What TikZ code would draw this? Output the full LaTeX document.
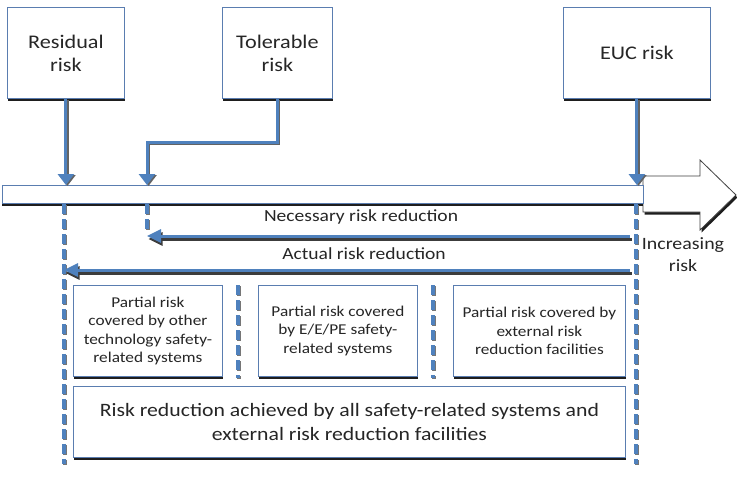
\documentclass[tikz,border=0pt]{standalone}
\usepackage{fontspec}
\setmainfont{Carlito}[FakeStretch=1.15]
\usetikzlibrary{arrows.meta,shadows,calc}
\definecolor{arrowblue}{HTML}{4F81BD}
\definecolor{boxline}{HTML}{5A7DB0}
\definecolor{shadowc}{HTML}{1E1E1E}
\definecolor{lshadow}{HTML}{3C3C3C}
\definecolor{txt}{HTML}{262626}
\tikzset{
  box/.style={draw=boxline, line width=0.8pt, fill=white, anchor=north west, inner sep=0pt,
    align=center, text=txt,
    drop shadow={shadow xshift=1pt, shadow yshift=-3pt, fill=shadowc, opacity=1}},
  topbox/.style={box, font=\fontsize{19.3}{23}\selectfont},
  smallbox/.style={box, font=\fontsize{15}{18.5}\selectfont},
  bigbox/.style={box, font=\fontsize{18.9}{24}\selectfont},
  vline/.style={draw=arrowblue, line width=3pt, -{Triangle[length=11pt,width=16pt]}},
  vshadow/.style={draw=lshadow!80, line width=3pt, -{Triangle[length=11pt,width=16pt]}},
  hline/.style={draw=arrowblue, line width=3pt, -{Triangle[length=14pt,width=13pt]}},
  hshadow/.style={draw=lshadow, line width=3pt, -{Triangle[length=14pt,width=13pt]}},
  dline/.style={draw=arrowblue, line width=3.4pt, dash pattern=on 10pt off 5pt},
  dshadow/.style={draw=lshadow!70, line width=3.4pt, dash pattern=on 10pt off 5pt},
  label/.style={text=txt, inner sep=0pt, align=center},
}
\begin{document}
\begin{tikzpicture}[x=1pt,y=-1pt]
\useasboundingbox (0,0) rectangle (737,480);
\fill[white] (0,0) rectangle (737,480);

% big increasing-risk arrow
\draw[draw=shadowc!85, line width=0.8pt, fill=white,
  drop shadow={shadow xshift=1.5pt, shadow yshift=-2.5pt, fill=shadowc, opacity=1}]
  (643,176) -- (700,176) -- (700,160) -- (736,195) -- (700,230) -- (700,212) -- (643,212) -- cycle;

% bar
\node[draw=boxline, line width=0.8pt, fill=white, anchor=north west, inner sep=0pt,
  minimum width=641pt, minimum height=18pt,
  drop shadow={shadow xshift=0pt, shadow yshift=-2.5pt, fill=shadowc, opacity=1}] (bar) at (2,185) {};

% top boxes
\node[topbox, minimum width=117pt, minimum height=91pt] (res) at (7,7) {Residual\\risk};
\node[topbox, minimum width=110pt, minimum height=91pt] (tol) at (222,7) {Tolerable\\risk};
\node[topbox, minimum width=147pt, minimum height=91pt] (euc) at (563,7) {EUC risk};

% coordinates
\coordinate (tcorner) at (147,142);
\coordinate (d1b) at (64,464);
\coordinate (d2b) at (147,232);
\coordinate (d3b) at (636,464);
\coordinate (m1t) at (238,285);
\coordinate (m1b) at (238,378);
\coordinate (m2t) at (433,285);
\coordinate (m2b) at (433,378);
\coordinate (necR) at (630,236);
\coordinate (actR) at (630,270);

% shadows of connectors
\begin{scope}[transform canvas={shift={(1.5pt,-1pt)}}]
\draw[vshadow] (res.south) -- (res.south |- bar.north);
\draw[vshadow] (tol.south) |- (tcorner) -- (tcorner |- bar.north);
\draw[vshadow] (euc.south) -- (euc.south |- bar.north);
\end{scope}
\begin{scope}[transform canvas={shift={(1pt,-1pt)}}]
\draw[dshadow] (d1b |- bar.south) -- (d1b);
\draw[dshadow] (d2b |- bar.south) -- (d2b);
\draw[dshadow] (d3b |- bar.south) -- (d3b);
\draw[dshadow] (m1t) -- (m1b);
\draw[dshadow] (m2t) -- (m2b);
\end{scope}
\begin{scope}[transform canvas={shift={(1.5pt,-3pt)}}]
\draw[hshadow] (necR) -- (necR -| d2b);
\draw[hshadow] (actR) -- (actR -| d1b);
\end{scope}

% vertical arrows
\draw[vline] (res.south) -- (res.south |- bar.north);
\draw[vline] (tol.south) |- (tcorner) -- (tcorner |- bar.north);
\draw[vline] (euc.south) -- (euc.south |- bar.north);

% dashed lines
\draw[dline] (d1b |- bar.south) -- (d1b);
\draw[dline] (d2b |- bar.south) -- (d2b);
\draw[dline] (d3b |- bar.south) -- (d3b);
\draw[dline] (m1t) -- (m1b);
\draw[dline] (m2t) -- (m2b);

% horizontal arrows
\draw[hline] (necR) -- (necR -| d2b);
\draw[hline] (actR) -- (actR -| d1b);

% labels
\node[label, font=\fontsize{17}{20}\selectfont] (nec) at (361,217) {Necessary risk reduction};
\node[label, font=\fontsize{17}{20}\selectfont] (act) at (364,254) {Actual risk reduction};
\node[label, font=\fontsize{17.3}{22}\selectfont] (inc) at (683,255) {Increasing\\risk};

% lower boxes
\node[smallbox, minimum width=149pt, minimum height=91pt] (p1) at (73,285) {Partial risk\\covered by other\\technology safety-\\related systems};
\node[smallbox, minimum width=159pt, minimum height=91pt] (p2) at (258,285) {Partial risk covered\\by E/E/PE safety-\\related systems};
\node[smallbox, minimum width=172pt, minimum height=91pt] (p3) at (453,285) {Partial risk covered by\\external risk\\reduction facilities};
\node[bigbox, minimum width=552pt, minimum height=71pt] (all) at (73,386) {Risk reduction achieved by all safety-related systems and\\external risk reduction facilities};
\end{tikzpicture}
\end{document}
